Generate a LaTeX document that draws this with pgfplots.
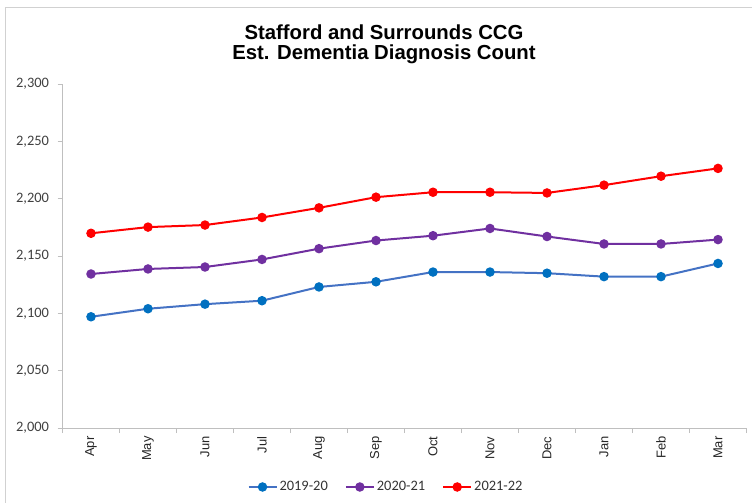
\documentclass[border=0pt]{standalone}
\usepackage{pgfplots}
\pgfplotsset{compat=1.18}
\usepackage{fontspec}
\setmainfont{Liberation Sans}
\newfontfamily\calib{Carlito}
\definecolor{c1line}{HTML}{4472C4}
\definecolor{c1mark}{HTML}{0070C0}
\definecolor{c2}{HTML}{7030A0}
\definecolor{c3}{HTML}{FF0000}
\definecolor{axgray}{HTML}{BFBFBF}

\begin{document}
\begin{tikzpicture}
\path[use as bounding box] (-62.5bp,-75bp) rectangle (689.5bp,428bp);
\draw[color=black!18, line width=1bp] (-56.5bp,-120bp) rectangle (720bp,420bp);
\begin{axis}[
  at={(0,0)}, anchor=south west,
  scale only axis, width=684bp, height=344bp,
  clip=false,
  xmin=-0.5, xmax=11.5, ymin=2000, ymax=2300,
  axis x line*=bottom, axis y line*=left,
  axis line style={draw=axgray, line width=0.8bp, -},
  ytick={2000,2050,...,2300},
  scaled y ticks=false,
  yticklabel style={font=\calib\fontsize{14.5}{14.5}\selectfont, color=black!75, xshift=-5bp,
    /pgf/number format/1000 sep={,}, /pgf/number format/assume math mode=true},
  xtick={-0.5,0.5,...,11.5}, xticklabels={},
  extra x ticks={0,1,2,3,4,5,6,7,8,9,10,11},
  extra x tick labels={Apr,May,Jun,Jul,Aug,Sep,Oct,Nov,Dec,Jan,Feb,Mar},
  extra x tick style={tick style={draw=none}},
  x tick label style={rotate=90, anchor=east, color=black!85, font=\fontsize{13}{13}\selectfont},
  tick style={draw=axgray, line width=0.8bp},
  tick align=outside, major tick length=5bp,
  legend style={at={(0.473,-0.1715)}, anchor=center, draw=none, fill=none,
    legend columns=-1, font=\calib\fontsize{14.5}{14.5}\selectfont, text=black!80,
    /tikz/every even column/.append style={column sep=15bp}},
  legend image code/.code={\draw[mark repeat=2,mark phase=2,#1] plot coordinates {(0bp,0bp) (14bp,0bp) (28bp,0bp)};},
]
\addplot[color=c1line, line width=2bp, mark=*, mark size=3.7bp, mark options={fill=c1mark, draw=c1mark}] coordinates {
  (0,2097) (1,2104) (2,2108) (3,2111) (4,2123) (5,2127.5)
  (6,2136) (7,2136) (8,2135) (9,2132) (10,2132) (11,2143.5)
};
\addplot[color=c2, line width=2bp, mark=*, mark size=3.7bp, mark options={fill=c2, draw=c2}] coordinates {
  (0,2134.3) (1,2138.7) (2,2140.4) (3,2147) (4,2156.4) (5,2163.5)
  (6,2167.7) (7,2174) (8,2167) (9,2160.5) (10,2160.5) (11,2164.3)
};
\addplot[color=c3, line width=2bp, mark=*, mark size=3.7bp, mark options={fill=c3, draw=c3}] coordinates {
  (0,2169.8) (1,2175.2) (2,2177) (3,2183.6) (4,2192) (5,2201.3)
  (6,2205.6) (7,2205.6) (8,2205) (9,2211.8) (10,2219.6) (11,2226.4)
};
\legend{2019-20,2020-21,2021-22}
\node[anchor=base, font=\bfseries\fontsize{20.4}{20.4}\selectfont] at (rel axis cs:0.47,1.1308) {Stafford and Surrounds CCG};
\node[anchor=base, font=\bfseries\fontsize{20.4}{20.4}\selectfont] at (rel axis cs:0.47,1.0698) {Est. Dementia Diagnosis Count};
\end{axis}
\end{tikzpicture}
\end{document}
